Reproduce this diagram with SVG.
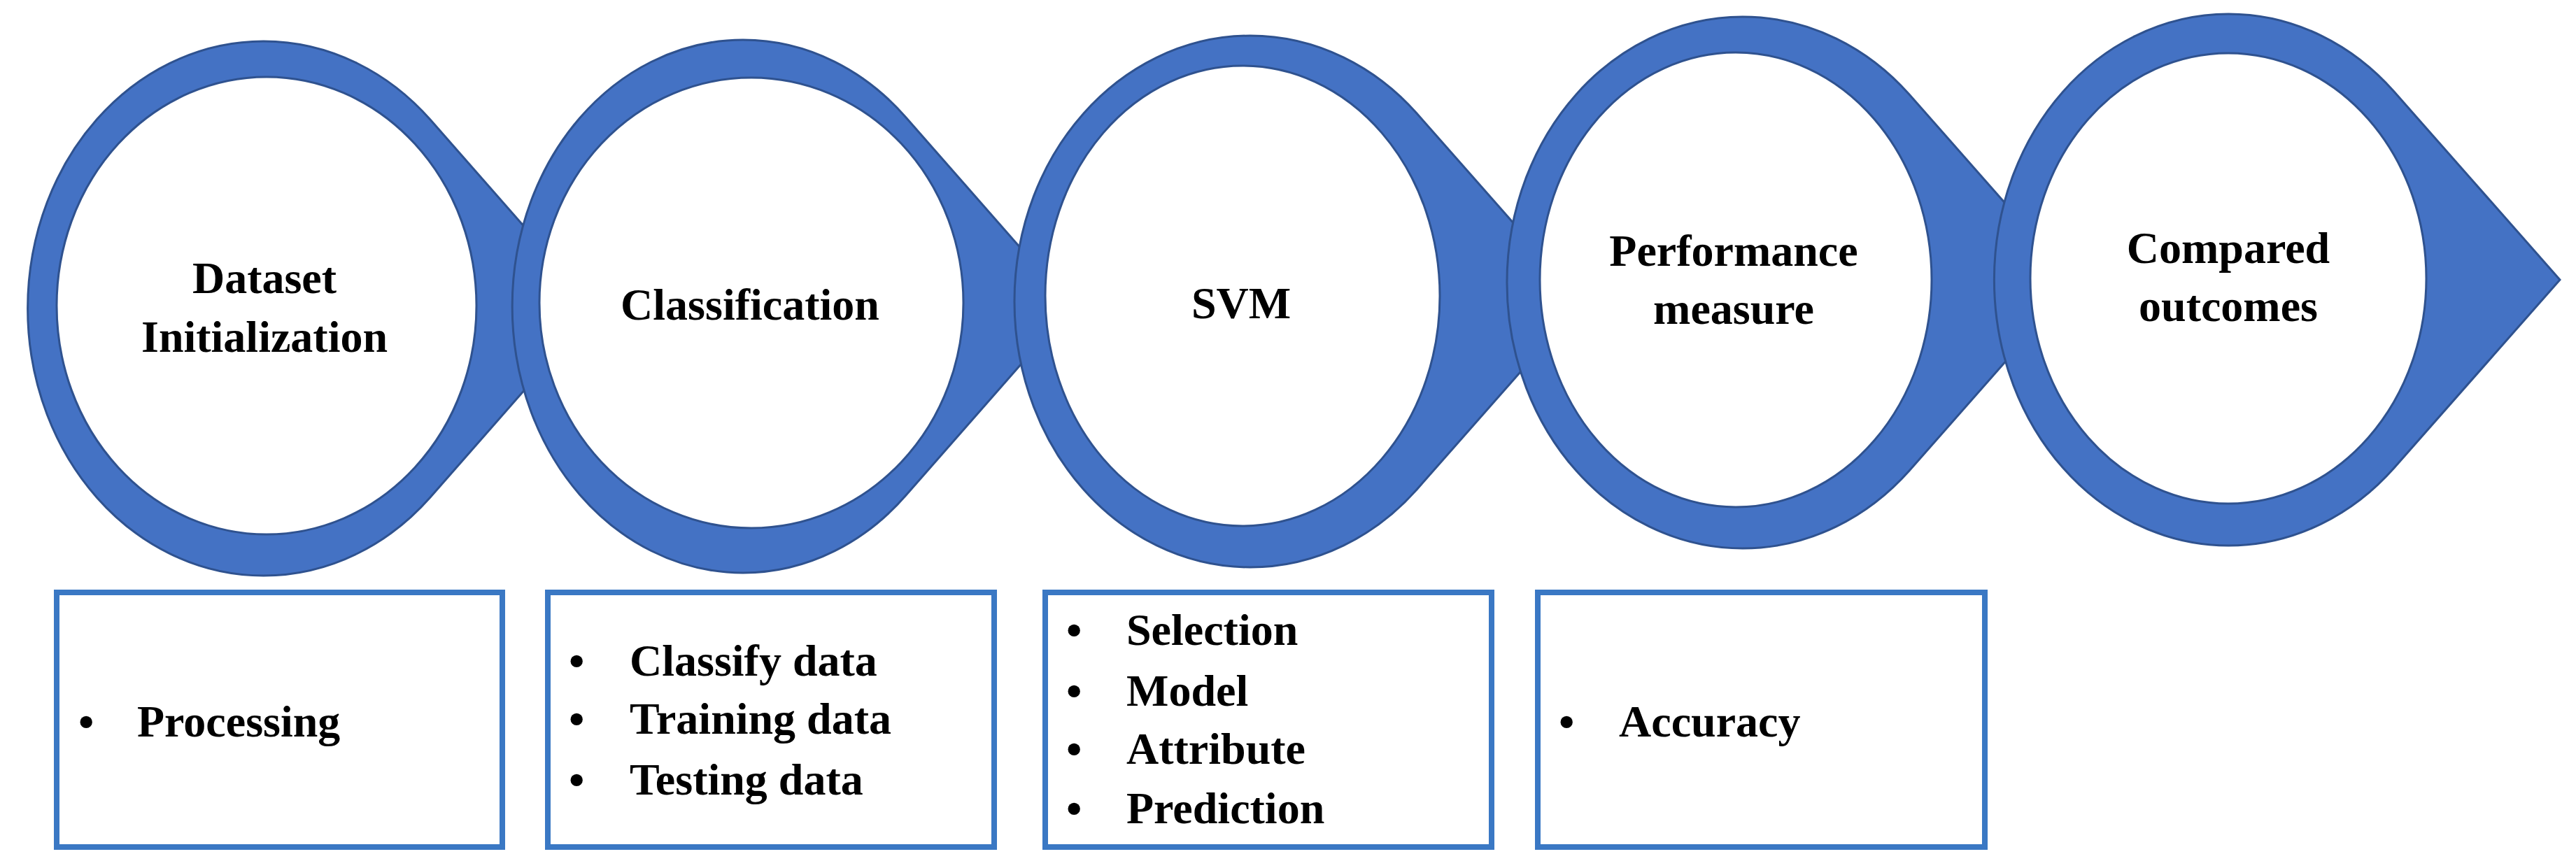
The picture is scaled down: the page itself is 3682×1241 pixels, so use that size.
<svg xmlns="http://www.w3.org/2000/svg" width="3682" height="1241" viewBox="0 0 3682 1241">
<style>
.ring{fill:#4472C4;stroke:#2F528F;stroke-width:3}
.hole{fill:#fff;stroke:#2F528F;stroke-width:3}
.t{font-family:"Liberation Serif","Times New Roman","DejaVu Serif",serif;font-weight:bold;font-size:64px;fill:#000}
.c{text-anchor:middle}
.box{fill:#fff;stroke:#3A78C4;stroke-width:8}
</style>
<rect width="3682" height="1241" fill="#fff"/>
<g id="step1">
<path class="ring" d="M615,171 L852,441 L615,711 A337,382 0 1 1 615,171 Z"/>
<ellipse class="hole" cx="381" cy="437" rx="300" ry="327"/>
<text class="t c" x="378" y="419">Dataset</text>
<text class="t c" x="378" y="503">Initialization</text>
</g>
<g id="step2">
<path class="ring" d="M1295,168 L1532,438 L1295,708 A330,381 0 1 1 1295,168 Z"/>
<ellipse class="hole" cx="1074" cy="433" rx="303" ry="322"/>
<text class="t c" x="1072" y="457">Classification</text>
</g>
<g id="step3">
<path class="ring" d="M2025,162 L2262,431 L2025,700 A337,380 0 1 1 2025,162 Z"/>
<ellipse class="hole" cx="1776" cy="423" rx="282" ry="329"/>
<text class="t c" x="1774" y="455">SVM</text>
</g>
<g id="step4">
<path class="ring" d="M2729,135 L2966,404 L2729,673 A337,380 0 1 1 2729,135 Z"/>
<ellipse class="hole" cx="2481" cy="400" rx="280" ry="325"/>
<text class="t c" x="2478" y="380">Performance</text>
<text class="t c" x="2478" y="463">measure</text>
</g>
<g id="step5">
<path class="ring" d="M3422,131 L3659,400 L3422,669 A335,380 0 1 1 3422,131 Z"/>
<ellipse class="hole" cx="3185" cy="398" rx="283" ry="322"/>
<text class="t c" x="3185" y="376">Compared</text>
<text class="t c" x="3185" y="459">outcomes</text>
</g>
<g id="box1">
<rect class="box" x="81" y="847" width="637" height="364"/>
<text class="t" x="112" y="1053">•</text><text class="t" x="196" y="1053">Processing</text>
</g>
<g id="box2">
<rect class="box" x="783" y="847" width="638" height="364"/>
<text class="t" x="813" y="966">•</text><text class="t" x="900" y="966">Classify data</text>
<text class="t" x="813" y="1049">•</text><text class="t" x="900" y="1049">Training data</text>
<text class="t" x="813" y="1136">•</text><text class="t" x="900" y="1136">Testing data</text>
</g>
<g id="box3">
<rect class="box" x="1494" y="847" width="638" height="364"/>
<text class="t" x="1524" y="922">•</text><text class="t" x="1610" y="922">Selection</text>
<text class="t" x="1524" y="1009">•</text><text class="t" x="1610" y="1009">Model</text>
<text class="t" x="1524" y="1092">•</text><text class="t" x="1610" y="1092">Attribute</text>
<text class="t" x="1524" y="1177">•</text><text class="t" x="1610" y="1177">Prediction</text>
</g>
<g id="box4">
<rect class="box" x="2198" y="847" width="639" height="364"/>
<text class="t" x="2228" y="1053">•</text><text class="t" x="2314" y="1053">Accuracy</text>
</g>
<g id="connectors"></g>
</svg>
